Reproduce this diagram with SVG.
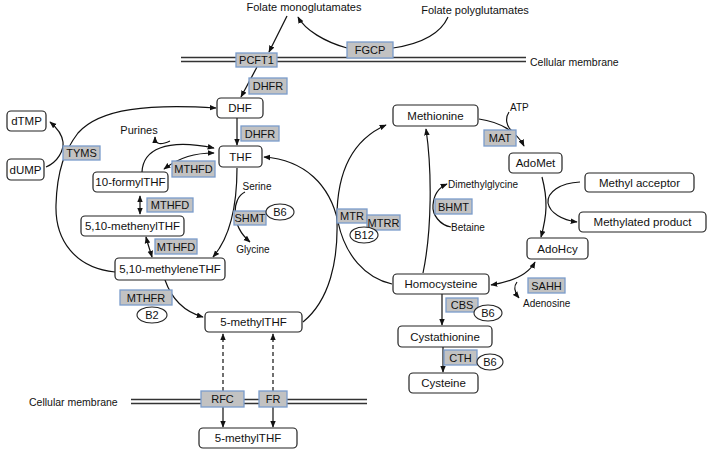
<svg xmlns="http://www.w3.org/2000/svg" width="709" height="452" viewBox="0 0 709 452">
<style>
.n rect{fill:#fff;stroke:#222;stroke-width:1.2}
.n text,.l text,.e text{font-family:"Liberation Sans",Arial,sans-serif;text-anchor:middle;fill:#111}
.n text{font-size:11.5px}
.l rect{fill:#c2c2c2;stroke:#7a9ccb;stroke-width:1.3}
.l text{font-size:11px}
.e ellipse{fill:#fff;stroke:#222;stroke-width:1.1}
.e text{font-size:11px}
.t{font-family:"Liberation Sans",Arial,sans-serif;fill:#111}
.c path{fill:none;stroke:#111;stroke-width:1.2}
.c .d{stroke-dasharray:4 3}
.m line{stroke:#333;stroke-width:1.6}
</style>
<defs>
<marker id="ah" viewBox="0 0 10 10" refX="9" refY="5" markerWidth="7" markerHeight="7" orient="auto-start-reverse" markerUnits="userSpaceOnUse"><path d="M0,1 L10,5 L0,9 z" fill="#111"/></marker>
</defs>

<g class="m" id="membranes">
<line x1="181" y1="57.5" x2="526" y2="57.5"/><line x1="181" y1="61.5" x2="526" y2="61.5"/>
<line x1="131" y1="399.5" x2="367" y2="399.5"/><line x1="131" y1="403.5" x2="367" y2="403.5"/>
</g>

<g id="texts">
<text class="t" x="304" y="11" font-size="11" text-anchor="middle">Folate monoglutamates</text>
<text class="t" x="475" y="14" font-size="11" text-anchor="middle">Folate polyglutamates</text>
<text class="t" x="530" y="66" font-size="10.5">Cellular membrane</text>
<text class="t" x="29" y="406" font-size="10.5">Cellular membrane</text>
<text class="t" x="139" y="134" font-size="11" text-anchor="middle">Purines</text>
<text class="t" x="257" y="190" font-size="10" text-anchor="middle">Serine</text>
<text class="t" x="253" y="253" font-size="10" text-anchor="middle">Glycine</text>
<text class="t" x="448" y="188" font-size="10">Dimethylglycine</text>
<text class="t" x="451" y="231" font-size="10">Betaine</text>
<text class="t" x="510" y="111" font-size="10">ATP</text>
<text class="t" x="523" y="307" font-size="10">Adenosine</text>
</g>

<g class="c" id="connectors">
<path d="M287,16 L269,52" marker-end="url(#ah)"/>
<path d="M347,48 C325,42 305,30 298,17" marker-end="url(#ah)"/>
<path d="M448,17 C440,35 420,44 393,48"/>
<path d="M257,67 L241,97" marker-end="url(#ah)"/>
<path d="M237,118 L237,145" marker-end="url(#ah)"/>
<path d="M46,167 C58,162 64,150 63,142 C62,134 56,127 50,122" marker-end="url(#ah)"/>
<path d="M115,272 C75,268 55,240 56,205 C57,170 65,150 78,133 C100,108 150,104 216,108" marker-end="url(#ah)"/>
<path d="M142,172 C143,150 165,138 214,148" marker-end="url(#ah)"/>
<path d="M170,141 C161,145 155,145 155,137" marker-end="url(#ah)"/>
<path d="M164,169 C180,157 195,153 214,153" marker-start="url(#ah)" marker-end="url(#ah)"/>
<path d="M140,196 L140,214" marker-start="url(#ah)" marker-end="url(#ah)"/>
<path d="M146,237 C148,245 150,250 152,257" marker-start="url(#ah)" marker-end="url(#ah)"/>
<path d="M237,168 C237,200 232,235 213,257" marker-end="url(#ah)"/>
<path d="M245,192 C232,198 230,225 250,242" marker-end="url(#ah)"/>
<path d="M165,280 C172,300 185,312 203,317" marker-end="url(#ah)"/>
<path d="M303,322 C330,300 338,260 337,222 C336,172 352,140 386,125" marker-end="url(#ah)"/>
<path d="M392,284 C365,278 345,255 338,222 C330,185 305,160 264,157" marker-end="url(#ah)"/>
<path d="M423,273 C432,230 432,170 426,129" marker-end="url(#ah)"/>
<path d="M451,227 C440,225 432,215 433,205 C434,193 440,187 447,184" marker-end="url(#ah)"/>
<path d="M479,119 C500,122 517,132 524,146" marker-end="url(#ah)"/>
<path d="M509,112 C505,118 506,126 512,131"/>
<path d="M542,177 C548,200 547,215 541,237" marker-end="url(#ah)"/>
<path d="M580,182 C560,183 547,192 548,203 C550,213 562,220 577,222" marker-end="url(#ah)"/>
<path d="M491,285 C510,282 528,275 535,262" marker-start="url(#ah)" marker-end="url(#ah)"/>
<path d="M517,282 C513,287 515,293 519,298" marker-end="url(#ah)"/>
<path d="M442,294 L442,325" marker-end="url(#ah)"/>
<path d="M443,347 L443,372" marker-end="url(#ah)"/>
<path class="d" d="M223,391 L223,334" marker-end="url(#ah)"/>
<path class="d" d="M273,391 L273,334" marker-end="url(#ah)"/>
<path d="M223,407 L223,427" marker-end="url(#ah)"/>
<path d="M273,407 L273,427" marker-end="url(#ah)"/>
</g>

<g class="n" id="DHF"><rect x="217" y="98" width="46" height="20" rx="4"/><text x="240" y="112">DHF</text></g>
<g class="n" id="THF"><rect x="219" y="146" width="43" height="21" rx="4"/><text x="240.5" y="161">THF</text></g>
<g class="n" id="dTMP"><rect x="7" y="111" width="39" height="20" rx="4"/><text x="26.5" y="125">dTMP</text></g>
<g class="n" id="dUMP"><rect x="7" y="159" width="37" height="21" rx="4"/><text x="25.5" y="174">dUMP</text></g>
<g class="n" id="formylTHF"><rect x="93" y="172" width="75" height="20" rx="4"/><text x="130.5" y="186">10-formylTHF</text></g>
<g class="n" id="methenylTHF"><rect x="81" y="216" width="103" height="20" rx="4"/><text x="132.5" y="230">5,10-methenylTHF</text></g>
<g class="n" id="methyleneTHF"><rect x="115" y="258" width="110" height="22" rx="4"/><text x="170" y="273">5,10-methyleneTHF</text></g>
<g class="n" id="methylTHF"><rect x="205" y="312" width="97" height="20" rx="4"/><text x="253.5" y="326">5-methylTHF</text></g>
<g class="n" id="methylTHF_out"><rect x="199" y="428" width="98" height="20" rx="4"/><text x="248" y="442">5-methylTHF</text></g>
<g class="n" id="Methionine"><rect x="393" y="105" width="85" height="21" rx="4"/><text x="435.5" y="120">Methionine</text></g>
<g class="n" id="AdoMet"><rect x="509" y="153" width="53" height="20" rx="4"/><text x="535.5" y="167">AdoMet</text></g>
<g class="n" id="MethylAcceptor"><rect x="585" y="173" width="109" height="19" rx="4"/><text x="639.5" y="187">Methyl acceptor</text></g>
<g class="n" id="MethylatedProduct"><rect x="579" y="212" width="127" height="20" rx="4"/><text x="642.5" y="226">Methylated product</text></g>
<g class="n" id="AdoHcy"><rect x="527" y="238" width="61" height="21" rx="4"/><text x="557.5" y="253">AdoHcy</text></g>
<g class="n" id="Homocysteine"><rect x="393" y="274" width="96" height="20" rx="4"/><text x="441" y="288">Homocysteine</text></g>
<g class="n" id="Cystathionine"><rect x="398" y="326" width="94" height="21" rx="4"/><text x="445" y="341">Cystathionine</text></g>
<g class="n" id="Cysteine"><rect x="409" y="373" width="69" height="20" rx="4"/><text x="443.5" y="387">Cysteine</text></g>

<g class="l" id="PCFT1"><rect x="236" y="53" width="41" height="14"/><text x="256.5" y="64">PCFT1</text></g>
<g class="l" id="FGCP"><rect x="347" y="42" width="46" height="16"/><text x="370" y="54">FGCP</text></g>
<g class="l" id="DHFR1"><rect x="249" y="78" width="38" height="16"/><text x="268" y="90">DHFR</text></g>
<g class="l" id="DHFR2"><rect x="241" y="126" width="38" height="15"/><text x="260" y="137.5">DHFR</text></g>
<g class="l" id="TYMS"><rect x="63" y="146" width="37" height="14"/><text x="81.5" y="157">TYMS</text></g>
<g class="l" id="MTHFD1"><rect x="172" y="161" width="43" height="16"/><text x="193.5" y="173">MTHFD</text></g>
<g class="l" id="MTHFD2"><rect x="147" y="198" width="46" height="14"/><text x="170" y="209">MTHFD</text></g>
<g class="l" id="MTHFD3"><rect x="155" y="239" width="42" height="15"/><text x="176" y="250.5">MTHFD</text></g>
<g class="l" id="SHMT"><rect x="234" y="211" width="32" height="14"/><text x="250" y="222">SHMT</text></g>
<g class="l" id="MTHFR"><rect x="120" y="290" width="52" height="15"/><text x="146" y="301.5">MTHFR</text></g>
<g class="l" id="MTR"><rect x="337" y="209" width="30" height="14"/><text x="352" y="220">MTR</text></g>
<g class="l" id="MTRR"><rect x="367" y="215" width="33" height="15"/><text x="383.5" y="226.5">MTRR</text></g>
<g class="l" id="BHMT"><rect x="435" y="199" width="37" height="15"/><text x="453.5" y="210.5">BHMT</text></g>
<g class="l" id="MAT"><rect x="484" y="130" width="32" height="16"/><text x="500" y="142">MAT</text></g>
<g class="l" id="SAHH"><rect x="528" y="278" width="37" height="15"/><text x="546.5" y="289.5">SAHH</text></g>
<g class="l" id="CBS"><rect x="446" y="298" width="32" height="14"/><text x="462" y="309">CBS</text></g>
<g class="l" id="CTH"><rect x="444" y="350" width="33" height="15"/><text x="460.5" y="361.5">CTH</text></g>
<g class="l" id="RFC"><rect x="201" y="391" width="43" height="16"/><text x="222.5" y="403">RFC</text></g>
<g class="l" id="FR"><rect x="259" y="391" width="28" height="16"/><text x="273" y="403">FR</text></g>

<g class="e" id="B6a"><ellipse cx="280" cy="212" rx="14" ry="8"/><text x="280" y="216">B6</text></g>
<g class="e" id="B2"><ellipse cx="152" cy="315" rx="15" ry="8"/><text x="152" y="319">B2</text></g>
<g class="e" id="B12"><ellipse cx="364" cy="235" rx="14" ry="8"/><text x="364" y="239">B12</text></g>
<g class="e" id="B6b"><ellipse cx="488" cy="313" rx="14" ry="8"/><text x="488" y="317">B6</text></g>
<g class="e" id="B6c"><ellipse cx="490" cy="362" rx="13" ry="8"/><text x="490" y="366">B6</text></g>
</svg>
